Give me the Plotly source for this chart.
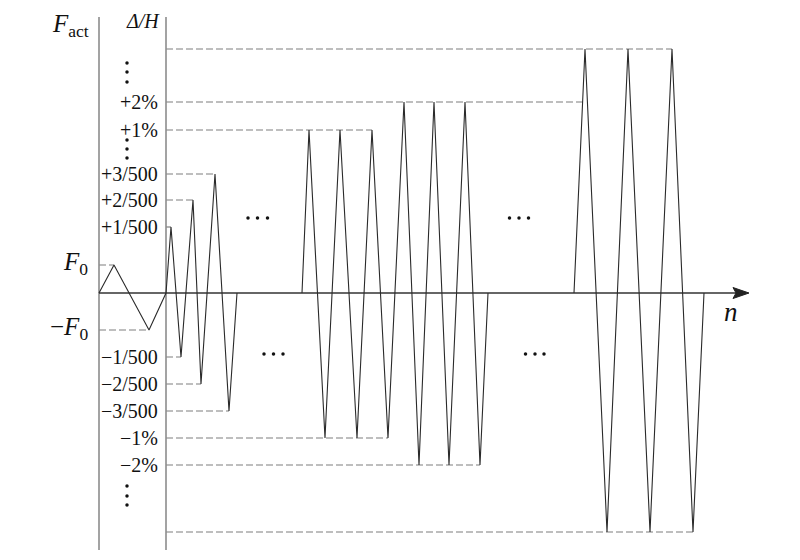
import plotly.graph_objects as go

# ---- data (n: loading step units, v: amplitude units; 0 = neutral axis) ----
level_names = ["top", "+2%", "+1%", "+3/500", "+2/500", "+1/500", "F0",
               "-F0", "−1/500", "−2/500", "−3/500", "−1%", "−2%", "bottom"]
level_vals = [244, 191, 163, 119, 93, 66, 28,
              -37, -64, -91, -118, -145, -172, -239]

# loading history (peak sequence)
wave_n = [0, 15, 50, 67, 72, 82, 94, 102, 116, 130, 138, None,
          203, 210, 226, 241, 258, 273, 289, 305, 320, 335, 350, 366, 381, 389, None,
          475, 486, 508, 529, 551, 573, 594, 605]
wave_v = [0, 28, -37, 0, 66, -64, 93, -91, 119, -118, 0, None,
          0, 163, -145, 163, -145, 163, -145, 191, -172, 191, -172, 191, -172, 0, None,
          0, 244, -239, 244, -239, 244, -239, 0]

# reference (dashed) lines: level, start n, end n
guide_level = [28, -37, 66, 93, 119, -64, -91, -118, 163, -145, 191, -172, 244, -239]
guide_start = [0, 0, 67, 67, 67, 67, 67, 67, 67, 67, 67, 67, 67, 67]
guide_end = [15, 50, 72, 94, 116, 82, 102, 130, 273, 289, 484, 381, 573, 594]

# tick labels on the Δ/H axis
tick_text = ["+2%", "+1%", "+3/500", "+2/500", "+1/500",
             "−1/500", "−2/500", "−3/500", "−1%", "−2%"]
tick_vals = [191, 163, 119, 93, 66, -64, -91, -118, -145, -172]

force_axis_n = 0
disp_axis_n = 67
axis_top, axis_bottom = 276, -257
n_axis_end = 650

FONT = "Liberation Serif"

fig = go.Figure()

# guide dashed lines
gx, gy = [], []
for lv, s, e in zip(guide_level, guide_start, guide_end):
    gx += [s, e, None]
    gy += [lv, lv, None]
fig.add_trace(go.Scatter(x=gx, y=gy, mode="lines",
                         line=dict(color="#7f7f7f", width=1.2, dash="7px,3px"),
                         hoverinfo="skip", showlegend=False))

# vertical axes
fig.add_trace(go.Scatter(x=[force_axis_n, force_axis_n, None, disp_axis_n, disp_axis_n],
                         y=[axis_top, axis_bottom, None, axis_top, axis_bottom],
                         mode="lines", line=dict(color="#8c8c8c", width=1.6),
                         hoverinfo="skip", showlegend=False))

# horizontal n axis
fig.add_trace(go.Scatter(x=[0, n_axis_end - 12], y=[0, 0], mode="lines",
                         line=dict(color="#333333", width=1.6),
                         hoverinfo="skip", showlegend=False))
fig.add_trace(go.Scatter(x=[n_axis_end - 16, n_axis_end, n_axis_end - 16, n_axis_end - 13, n_axis_end - 16],
                         y=[5.5, 0, -5.5, 0, 5.5], mode="lines", fill="toself",
                         fillcolor="#222222", line=dict(color="#222222", width=1),
                         hoverinfo="skip", showlegend=False))

# loading waveform
fig.add_trace(go.Scatter(x=wave_n, y=wave_v, mode="lines",
                         line=dict(color="#2a2a2a", width=1.1),
                         connectgaps=False, hoverinfo="skip", showlegend=False))

# ellipsis dots
dot_x = [28, 28, 28, 28, 28, 28, 28, 28, 28,
         149, 158.5, 168.5, 165, 174.5, 184,
         410.5, 420, 429.5, 426.5, 436, 445]
dot_y = [230, 221, 211, 153, 144, 135, -193, -203, -212,
         75, 75, 75, -61, -61, -61,
         75, 75, 75, -61, -61, -61]
fig.add_trace(go.Scatter(x=dot_x, y=dot_y, mode="markers",
                         marker=dict(color="#111111", size=3.5),
                         hoverinfo="skip", showlegend=False))

ann = []
for t, v in zip(tick_text, tick_vals):
    ann.append(dict(x=61, y=v, text=t, xanchor="right", yanchor="middle",
                    showarrow=False, font=dict(family=FONT, size=20, color="#111111")))

ann.append(dict(x=-9, y=30, text="<i>F</i><sub>0</sub>", xanchor="right", yanchor="middle",
                showarrow=False, font=dict(family=FONT, size=25, color="#111111")))
ann.append(dict(x=-9, y=-35, text="−<i>F</i><sub>0</sub>", xanchor="right", yanchor="middle",
                showarrow=False, font=dict(family=FONT, size=25, color="#111111")))
ann.append(dict(x=-8, y=268, text="<i>F</i><sub>act</sub>", xanchor="right", yanchor="middle",
                showarrow=False, font=dict(family=FONT, size=25, color="#111111")))
ann.append(dict(x=44, y=272, text="<i>Δ/H</i>", xanchor="center", yanchor="middle",
                showarrow=False, font=dict(family=FONT, size=20, color="#111111")))
ann.append(dict(x=632, y=-19, text="<i>n</i>", xanchor="center", yanchor="middle",
                showarrow=False, font=dict(family=FONT, size=27, color="#111111")))

# page body adds an 8px offset; shift the data window to compensate
fig.update_layout(
    width=800, height=560,
    margin=dict(l=0, r=0, t=0, b=0),
    paper_bgcolor="white", plot_bgcolor="white",
    xaxis=dict(range=[-91, 709], visible=False, fixedrange=True),
    yaxis=dict(range=[-275, 285], visible=False, fixedrange=True),
    annotations=ann,
    showlegend=False,
)

fig.write_html("out.html")
